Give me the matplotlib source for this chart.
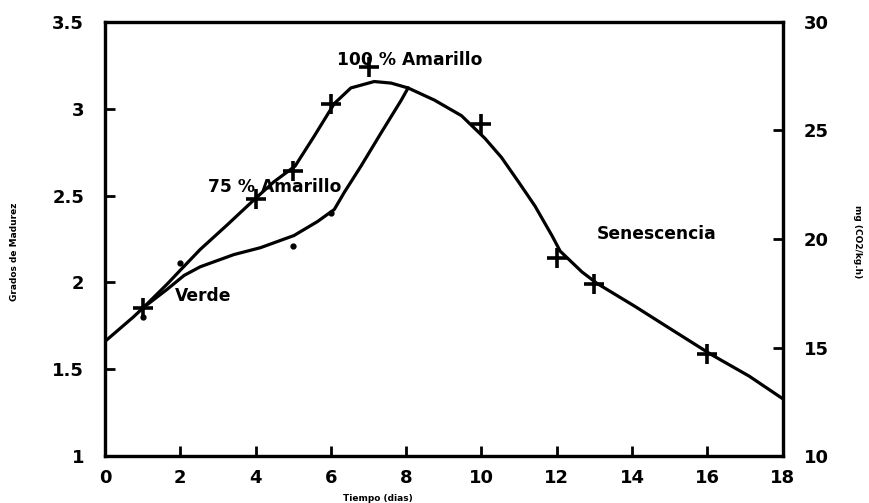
import matplotlib
matplotlib.use('Agg')
import matplotlib.pyplot as plt

# Puntos medidos (cruces) - escala izquierda
dias_cruz = [1, 4, 5, 6, 7, 10, 12, 13, 16]
valor_cruz = [1.85, 2.48, 2.64, 3.03, 3.24, 2.91, 2.14, 1.99, 1.59]

# Puntos medidos (puntos)
dias_punto = [1, 2, 5, 6]
valor_punto = [1.80, 2.11, 2.21, 2.40]

# Curva superior (subida por las cruces hasta el pico)
x_sup = [0, 0.75, 1.02, 1.65, 2.0, 2.53, 3.24, 3.98, 4.49, 5.05, 5.55, 6.09, 6.53, 7.15, 7.6, 8.05]
y_sup = [1.66, 1.80, 1.855, 1.99, 2.07, 2.19, 2.33, 2.48, 2.58, 2.67, 2.84, 3.03, 3.12, 3.157, 3.148, 3.12]

# Curva inferior (rama baja hasta el dia 8)
x_inf = [1.02, 1.65, 2.1, 2.53, 3.42, 4.13, 5.02, 5.64, 6.09, 6.36, 6.8, 7.33, 7.87, 8.05]
y_inf = [1.855, 1.96, 2.04, 2.09, 2.16, 2.20, 2.27, 2.35, 2.42, 2.52, 2.67, 2.86, 3.05, 3.12]

# Curva de bajada (senescencia)
x_baj = [8.05, 8.75, 9.47, 10.09, 10.53, 10.98, 11.42, 11.87, 12.09, 12.67, 13.07, 14.09, 14.89, 16.09, 17.11, 18.0]
y_baj = [3.12, 3.05, 2.96, 2.83, 2.72, 2.58, 2.44, 2.27, 2.18, 2.06, 1.994, 1.86, 1.75, 1.586, 1.46, 1.33]

x_ticks = [0, 2, 4, 6, 8, 10, 12, 14, 16, 18]
y_ticks = [1, 1.5, 2, 2.5, 3, 3.5]
y_tick_labels = ['1', '1.5', '2', '2.5', '3', '3.5']
y2_ticks = [10, 15, 20, 25, 30]

bold = dict(family='DejaVu Sans', weight='bold')

fig = plt.figure(figsize=(8.69, 5.03), dpi=100)
ax = fig.add_axes([0.1208, 0.0934, 0.7799, 0.8629])

ax.plot(x_sup, y_sup, color='black', lw=2.3, solid_joinstyle='round', solid_capstyle='round')
ax.plot(x_inf, y_inf, color='black', lw=2.3, solid_joinstyle='round', solid_capstyle='round')
ax.plot(x_baj, y_baj, color='black', lw=2.3, solid_joinstyle='round', solid_capstyle='round')

ax.plot(dias_cruz, valor_cruz, linestyle='none', marker='+', ms=14, mew=2.6, color='black')
ax.plot(dias_punto, valor_punto, linestyle='none', marker='o', ms=3.5, color='black')

ax.set_xlim(0, 18)
ax.set_ylim(1, 3.5)
ax.set_xticks(x_ticks)
ax.set_yticks(y_ticks)
ax.set_yticklabels(y_tick_labels)

for s in ax.spines.values():
    s.set_linewidth(2.3)

ax.tick_params(direction='in', length=7, width=2, labelsize=13)
ax.tick_params(axis='y', pad=15)
ax.tick_params(axis='x', pad=9)
for lab in ax.get_xticklabels() + ax.get_yticklabels():
    lab.set_fontweight('bold')

ax2 = ax.twinx()
ax2.set_ylim(10, 30)
ax2.set_yticks(y2_ticks)
ax2.tick_params(direction='in', length=7, width=2, labelsize=13, pad=15)
for lab in ax2.get_yticklabels():
    lab.set_fontweight('bold')
for s in ax2.spines.values():
    s.set_linewidth(2.3)

# Etiquetas de los estados
ax.text(6.17, 3.28, '100 % Amarillo', fontsize=12.3, va='center', ha='left', **bold)
ax.text(2.74, 2.55, '75 % Amarillo', fontsize=12.3, va='center', ha='left', **bold)
ax.text(1.86, 1.92, 'Verde', fontsize=12.3, va='center', ha='left', **bold)
ax.text(13.06, 2.28, 'Senescencia', fontsize=12.3, va='center', ha='left', **bold)

ax.set_xlabel('Tiempo (dias)', fontsize=6.5, fontweight='bold')
ax.xaxis.set_label_coords(0.403, -0.088)
fig.text(0.017, 0.5, 'Grados de Madurez', rotation=90, fontsize=6.5, fontweight='bold',
         ha='center', va='center')
fig.text(0.987, 0.52, 'mg (CO2/kg.h)', rotation=270, fontsize=6.5, fontweight='bold',
         ha='center', va='center')

fig.savefig('out.png', dpi=100)
